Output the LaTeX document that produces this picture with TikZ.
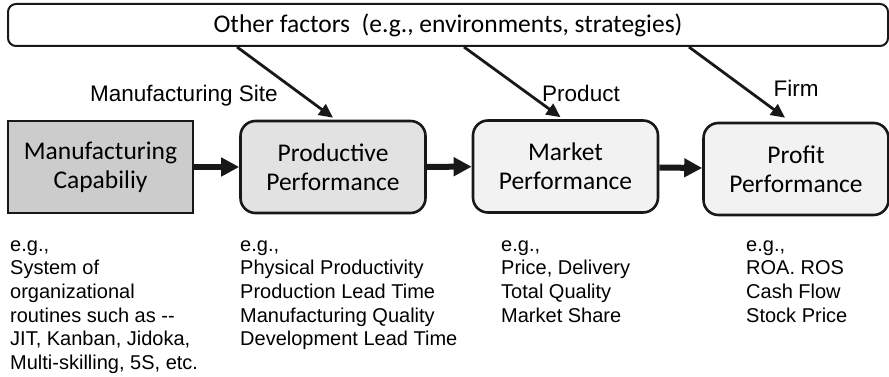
\documentclass[tikz,border=0pt]{standalone}
\usepackage{fontspec}
\setmainfont{Liberation Sans}
\newfontfamily\boxfont{Carlito}
\usetikzlibrary{arrows.meta,calc}
\definecolor{capfill}{RGB}{204,204,204}
\definecolor{prodfill}{RGB}{226,226,226}
\definecolor{perffill}{RGB}{242,242,242}
\definecolor{ink}{RGB}{24,24,24}
\begin{document}
\begin{tikzpicture}[x=1pt,y=-1pt,
  stage/.style={draw=ink,line width=2.6pt,minimum width=185pt,minimum height=92pt,
    inner sep=0pt,align=center,font=\boxfont\fontsize{25.5}{29}\selectfont},
  roundstage/.style={stage,rounded corners=15pt},
  flow/.style={draw=ink,line width=6pt,-{Triangle[length=18pt,width=18pt]}},
  factor/.style={draw=ink,line width=2.8pt,-{Triangle[length=14pt,width=13pt]}},
  level/.style={font=\fontsize{22.5}{26}\selectfont,inner sep=0pt},
  example/.style={anchor=base west,align=left,inner sep=0pt,
    font=\fontsize{20}{23.7}\selectfont}]
\useasboundingbox (0,0) rectangle (889,377);

% other factors bar
\node[draw=ink,line width=2pt,rounded corners=8pt,minimum width=880pt,minimum height=42pt,
  inner sep=0pt,font=\boxfont\fontsize{25.5}{29}\selectfont] (other) at (448,25)
  {Other factors\ \ (e.g., environments, strategies)};

% stages
\node[stage,fill=capfill] (cap) at (100.5,167) {Manufacturing\\Capabiliy};
\node[roundstage,fill=prodfill] (prod) at (333,167) {Productive\\Performance};
\node[roundstage,fill=perffill] (mkt) at (565.5,166.5) {Market\\Performance};
\node[roundstage,fill=perffill] (prof) at (796,169) {Profit\\Performance};

% main chain
\draw[flow] (cap) -- (prod);
\draw[flow] (prod) -- (mkt);
\draw[flow] (mkt) -- (prof);

% influence of other factors
\coordinate (o1) at ($(other.south west)+(230,0)$);
\coordinate (o2) at ($(other.south west)+(457,0)$);
\coordinate (o3) at ($(other.south west)+(682,0)$);
\draw[factor] (o1) -- ($(prod.north)+(0,-2)$);
\draw[factor] (o2) -- ($(mkt.north)+(-5,-2)$);
\draw[factor] (o3) -- ($(prof.north)+(-11,-4)$);

% level labels
\node[level] (lsite) at (184,96) {Manufacturing Site};
\node[level] (lprod) at (581,93) {Product};
\node[level] (lfirm) at (796,88) {Firm};

% examples (anchored at the baseline of their last line)
\node[example] (ecap) at (10,369.5) {e.g.,\\System of\\organizational\\routines such as -{}-\\JIT, Kanban, Jidoka,\\Multi-skilling, 5S, etc.};
\node[example] (eprod) at (240,345.8) {e.g.,\\Physical Productivity\\Production Lead Time\\Manufacturing Quality\\Development Lead Time};
\node[example] (emkt) at (501,322.1) {e.g.,\\Price, Delivery\\Total Quality\\Market Share};
\node[example] (eprof) at (746,322.1) {e.g.,\\ROA. ROS\\Cash Flow\\Stock Price};
\end{tikzpicture}
\end{document}
